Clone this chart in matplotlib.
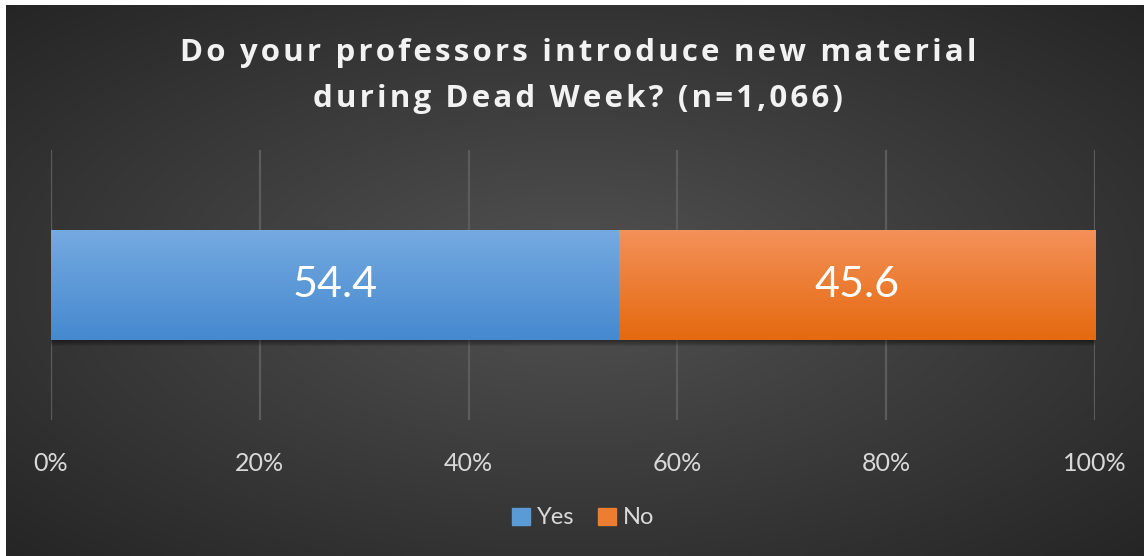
import matplotlib.pyplot as plt
import numpy as np
from matplotlib.patches import Rectangle
from matplotlib.colors import to_rgb

# Données
categories = ['Yes', 'No']
valeurs = [54.4, 45.6]
couleurs_haut = ['#74aae0', '#f39159']
couleurs_bas = ['#4689cf', '#e5690f']
couleurs_legende = ['#5b9bd5', '#ed7d31']
ticks = [0, 20, 40, 60, 80, 100]
tick_labels = ['0%', '20%', '40%', '60%', '80%', '100%']
titre = ["Do your professors introduce new material", "during Dead Week? (n=1,066)"]

plt.rcParams['font.family'] = ['Lato', 'DejaVu Sans']

W, H = 1144, 556
fig = plt.figure(figsize=(W / 100, H / 100), dpi=100)
fig.patch.set_facecolor('white')

# Fond en dégradé radial (marge blanche en haut et à gauche)
bg = fig.add_axes([6 / W, 0, 1 - 6 / W, 1 - 5 / H])
bg.set_axis_off()
yy, xx = np.mgrid[0:1:300j, 0:1:600j]
r = np.sqrt(((xx - 0.5) / 0.75) ** 2 + ((yy - 0.5) / 0.75) ** 2)
r = np.clip(r / 0.95, 0, 1)
c_centre = np.array([0x52, 0x52, 0x52]) / 255
c_bord = np.array([0x25, 0x25, 0x25]) / 255
img = c_centre[None, None, :] * (1 - r[..., None]) + c_bord[None, None, :] * r[..., None]
bg.imshow(img, aspect='auto', extent=[0, 1, 0, 1], interpolation='bilinear')
bg.set_xlim(0, 1)
bg.set_ylim(0, 1)

# Axe principal
ax = fig.add_axes([51 / W, 1 - 420 / H, (1095 - 51) / W, 270 / H])
ax.set_facecolor('none')
ax.set_xlim(0, 100)
ax.set_ylim(-0.5, 0.5)
for s in ax.spines.values():
    s.set_visible(False)
ax.set_yticks([])
ax.set_xticks(ticks)
ax.set_xticklabels(tick_labels)
ax.tick_params(axis='x', length=0, pad=23, labelsize=18, labelcolor='#d9d9d9')
ax.grid(axis='x', color='#5c5c5c', linewidth=1.6)
ax.set_axisbelow(True)

hauteur = 0.404
gauche = 0
grad = np.linspace(0, 1, 100)[:, None]
for i, v in enumerate(valeurs):
    # ombre douce
    for k in range(1, 7):
        ax.barh(-0.004 * k, v, left=gauche, height=hauteur, color='black',
                alpha=0.08, zorder=2, linewidth=0)
    bar = ax.barh(0, v, left=gauche, height=hauteur, color=couleurs_legende[i], zorder=3)[0]
    c1 = np.array(to_rgb(couleurs_haut[i]))
    c2 = np.array(to_rgb(couleurs_bas[i]))
    g = c1[None, None, :] * (1 - grad[..., None]) + c2[None, None, :] * grad[..., None]
    im = ax.imshow(g, aspect='auto', extent=[gauche, gauche + v, -hauteur / 2, hauteur / 2],
                   zorder=4, interpolation='bilinear')
    im.set_clip_path(bar)
    ax.text(gauche + v / 2, 0, f'{v}', ha='center', va='center', color='white',
            fontsize=31, zorder=5)
    gauche += v
ax.set_ylim(-0.5, 0.5)

# Titre (espacement des lettres élargi)
for ligne, y_base in zip(titre, [61, 107]):
    fig.text(578 / W, 1 - y_base / H, '\u200a'.join(ligne), ha='center', va='baseline',
             color='#f2f2f2', fontsize=22.5, fontweight='bold',
             family=['Open Sans', 'DejaVu Sans'])

# Légende
handles = [Rectangle((0, 0), 1, 1, color=c) for c in couleurs_legende]
leg = fig.legend(handles, categories, loc='center', bbox_to_anchor=(583 / W, 1 - 518 / H),
                 ncol=2, frameon=False, fontsize=17, labelcolor='#d9d9d9',
                 handlelength=0.75, handleheight=0.75, handletextpad=0.3, columnspacing=1.0)

fig.savefig('out.png', dpi=100)
